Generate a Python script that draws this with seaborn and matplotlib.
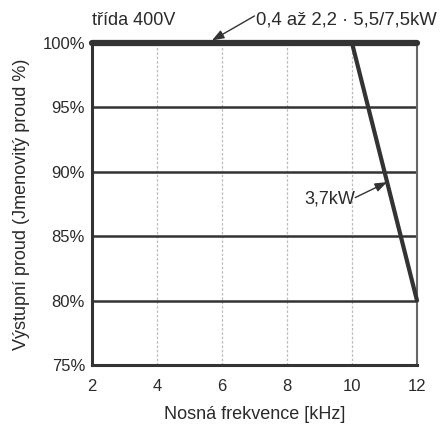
import matplotlib
matplotlib.use("Agg")
import matplotlib.pyplot as plt
import seaborn as sns
import pandas as pd

# Derating curves: output current vs. carrier frequency
freq_small = [2, 12]          # kHz, 0.4-2.2 / 5.5/7.5 kW
curr_small = [100, 100]       # %
freq_37 = [10, 12]            # kHz, 3.7 kW
curr_37 = [100, 80]           # %

x_ticks = [2, 4, 6, 8, 10, 12]
y_ticks = [75, 80, 85, 90, 95, 100]
y_tick_labels = ["75%", "80%", "85%", "90%", "95%", "100%"]

sns.set_style("white")
plt.rcParams["font.family"] = ["Liberation Sans", "DejaVu Sans"]

dark = "#333333"
txt = "#2a2a2a"

fig = plt.figure(figsize=(4.41, 4.28), dpi=100)
ax = fig.add_axes([0.2086, 0.1472, 0.7370, 0.7523])

df_small = pd.DataFrame({"f": freq_small, "i": curr_small})
df_37 = pd.DataFrame({"f": freq_37, "i": curr_37})

# grid
for x in x_ticks[1:-1]:
    ax.axvline(x, color="#bbbbbb", lw=0.9, ls=(0, (2, 1.5)), zorder=1)
for y in y_ticks[1:-1]:
    ax.axhline(y, color=dark, lw=1.8, zorder=2)

sns.lineplot(data=df_small, x="f", y="i", ax=ax, color=dark, lw=4.5,
             zorder=4, clip_on=False)
sns.lineplot(data=df_37, x="f", y="i", ax=ax, color=dark, lw=3,
             zorder=4, clip_on=False)

ax.set_xlim(2, 12)
ax.set_ylim(75, 100)
ax.set_xticks(x_ticks)
ax.set_yticks(y_ticks)
ax.set_yticklabels(y_tick_labels)
ax.tick_params(axis="both", labelsize=12, colors=txt, length=0)
ax.tick_params(axis="x", pad=10)
ax.tick_params(axis="y", pad=5)

for side in ["left", "bottom"]:
    ax.spines[side].set_color(dark)
    ax.spines[side].set_linewidth(2.2)
ax.spines["right"].set_color("#666666")
ax.spines["right"].set_linewidth(1.5)
ax.spines["top"].set_visible(False)

ax.set_xlabel("Nosná frekvence [kHz]", fontsize=13, color=txt, labelpad=9)
ax.set_ylabel("Výstupní proud (Jmenovitý proud %)", fontsize=13,
              color=txt, labelpad=9)

arrow = dict(arrowstyle="-|>,head_length=0.6,head_width=0.22", color=dark,
             lw=1, mutation_scale=12, shrinkA=0, shrinkB=0)

ax.text(2, 101.4, "třída 400V", fontsize=13, color=txt,
        ha="left", va="baseline")
ax.text(7.05, 101.4, "0,4 až 2,2 · 5,5/7,5kW", fontsize=13.3, color=txt,
        ha="left", va="baseline")
ax.annotate("", xy=(5.69, 100.2), xytext=(7.0, 102.1),
            arrowprops=arrow, annotation_clip=False)

ax.text(10.1, 87.9, "3,7kW", fontsize=13, color=txt, ha="right", va="center")
ax.annotate("", xy=(11.08, 89.2), xytext=(10.1, 88.0), arrowprops=arrow)

fig.savefig("out.png", dpi=100)
